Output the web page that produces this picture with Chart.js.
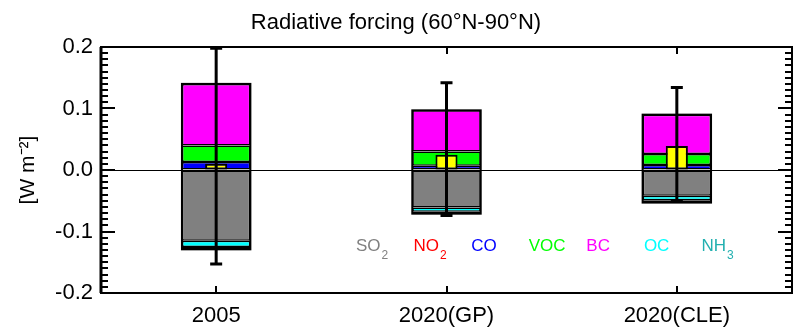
<!DOCTYPE html>
<html>
<head>
<meta charset="utf-8">
<script src="https://cdn.jsdelivr.net/npm/chart.js@4.4.1/dist/chart.umd.min.js"></script>
<style>
  html, body { margin: 0; padding: 0; background: #fff; }
  canvas { display: block; }
</style>
</head>
<body>
<canvas id="rfChart" width="795" height="328"></canvas>
<script>
// ---- data (W m-2) ----
const categories = ["2005", "2020(GP)", "2020(CLE)"];
const so2 = [-0.115, -0.061, -0.042];
const no2 = [0, 0, 0];
const co  = [0.013, 0.007, 0.008];
const voc = [0.027, 0.023, 0.018];
const bc  = [0.100, 0.067, 0.064];
const oc  = [-0.010, -0.007, -0.007];
const nh3 = [-0.004, -0.003, -0.004];
const net = [0.010, 0.025, 0.039];
const errHigh = [0.198, 0.142, 0.134];
const errLow  = [-0.153, -0.074, -0.051];

const yTicks = [-0.2, -0.1, 0, 0.1, 0.2];
const yTickLabels = ["-0.2", "-0.1", "0.0", "0.1", "0.2"];

// in-plot species labels
const legendNames  = ["SO", "NO", "CO", "VOC", "BC", "OC", "NH"];
const legendSubs   = ["2", "2", "", "", "", "", "3"];
const legendColors = ["#808080", "#ff0000", "#0000ff", "#00ff00", "#ff00ff", "#00ffff", "#22b0b0"];

const FONT = "'Liberation Sans', Arial, Helvetica, sans-serif";

function comp(label, data, color) {
  return {
    label, data,
    backgroundColor: color,
    borderColor: "#000",
    borderWidth: 1.5,
    borderSkipped: false,
    stack: "comp",
    grouped: false,
    order: 1,
    categoryPercentage: 1,
    barPercentage: 0.297,
  };
}

// box outlines, error bars, frame with inward ticks, species labels
const decorPlugin = {
  id: "decor",
  afterDatasetsDraw(chart) {
    const { ctx, scales: { x, y } } = chart;
    const metas = chart.getSortedVisibleDatasetMetas().filter((m) => m.stack === "comp");
    ctx.save();
    ctx.strokeStyle = "#000";

    categories.forEach((_, j) => {
      let top = Infinity, bot = -Infinity, cx = 0, w = 0;
      metas.forEach((m) => {
        const el = m.data[j];
        if (!el) return;
        top = Math.min(top, el.y, el.base);
        bot = Math.max(bot, el.y, el.base);
        cx = el.x; w = el.width;
      });
      ctx.lineWidth = 2;
      ctx.strokeRect(cx - w / 2, top, w, bot - top);

      // error bar
      const px = x.getPixelForValue(j);
      const yHi = y.getPixelForValue(errHigh[j]);
      const yLo = y.getPixelForValue(errLow[j]);
      ctx.lineWidth = 3;
      ctx.beginPath();
      ctx.moveTo(px, yHi); ctx.lineTo(px, yLo);
      ctx.moveTo(px - 6, yHi); ctx.lineTo(px + 6, yHi);
      ctx.moveTo(px - 6, yLo); ctx.lineTo(px + 6, yLo);
      ctx.stroke();
    });
    ctx.restore();
  },
  afterDraw(chart) {
    const { ctx, chartArea: a, scales: { x, y } } = chart;
    ctx.save();
    ctx.strokeStyle = "#000";

    // minor / major ticks on left and right, pointing inward
    ctx.lineWidth = 2;
    for (let k = -20; k <= 20; k++) {
      const py = Math.round(y.getPixelForValue(k / 100));
      const len = k % 10 === 0 ? 14 : 7;
      ctx.beginPath();
      ctx.moveTo(a.left, py); ctx.lineTo(a.left + len, py);
      ctx.moveTo(a.right, py); ctx.lineTo(a.right - len, py);
      ctx.stroke();
    }
    // category ticks top and bottom
    categories.forEach((_, j) => {
      const px = Math.round(x.getPixelForValue(j));
      ctx.beginPath();
      ctx.moveTo(px, a.bottom); ctx.lineTo(px, a.bottom - 7);
      ctx.moveTo(px, a.top); ctx.lineTo(px, a.top + 7);
      ctx.stroke();
    });
    // frame
    ctx.lineWidth = 2;
    ctx.strokeRect(a.left, a.top, a.right - a.left, a.bottom - a.top);
    ctx.lineWidth = 3;
    ctx.beginPath();
    ctx.moveTo(a.left, a.top); ctx.lineTo(a.left, a.bottom);
    ctx.stroke();

    // species labels inside the plot
    const yb = y.getPixelForValue(-0.132);
    legendNames.forEach((name, i) => {
      const lx = x.getPixelForValue(0.607 + i * 0.25);
      ctx.fillStyle = legendColors[i];
      ctx.font = "17px " + FONT;
      ctx.textAlign = "left";
      ctx.textBaseline = "alphabetic";
      ctx.fillText(name, lx, yb);
      if (legendSubs[i]) {
        const w = ctx.measureText(name).width;
        ctx.font = "12px " + FONT;
        ctx.fillText(legendSubs[i], lx + w + 1, yb + 8);
      }
    });
    ctx.restore();
  },
};

new Chart(document.getElementById("rfChart"), {
  type: "bar",
  data: {
    labels: categories,
    datasets: [
      {
        label: "Net", data: net,
        backgroundColor: "#ffff00", borderColor: "#000", borderWidth: 2, borderSkipped: false,
        stack: "net", grouped: false, order: 0,
        categoryPercentage: 1, barPercentage: 0.096,
      },
      comp("SO2", so2, "#808080"),
      comp("NO2", no2, "#ff0000"),
      comp("CO", co, "#0000ff"),
      comp("VOC", voc, "#00ff00"),
      comp("BC", bc, "#ff00ff"),
      comp("OC", oc, "#00ffff"),
      comp("NH3", nh3, "#22b0b0"),
    ],
  },
  options: {
    responsive: false,
    animation: false,
    devicePixelRatio: 1,
    layout: { padding: { left: 0, right: 3, top: 0, bottom: 0 } },
    plugins: {
      legend: { display: false },
      tooltip: { enabled: false },
      title: {
        display: true,
        text: "Radiative forcing (60°N-90°N)",
        color: "#000",
        font: { family: FONT, size: 22, weight: "normal" },
        padding: { top: 10, bottom: 10.6 },
      },
    },
    scales: {
      x: {
        offset: true,
        grid: { display: false, drawTicks: false },
        border: { display: false },
        ticks: { color: "#000", font: { family: FONT, size: 22 }, padding: 10, maxRotation: 0, autoSkip: false },
        afterFit: (s) => { s.height = 35; },
      },
      y: {
        stacked: true,
        min: -0.2,
        max: 0.2,
        afterBuildTicks: (s) => { s.ticks = yTicks.map((v) => ({ value: v })); },
        ticks: {
          color: "#000",
          font: { family: FONT, size: 22 },
          padding: 8,
          callback: (v) => yTickLabels[yTicks.indexOf(Math.round(v * 10) / 10)],
        },
        grid: {
          drawTicks: false,
          lineWidth: 1,
          color: (c) => (c.tick && Math.abs(c.tick.value) < 1e-9 ? "#000" : "rgba(0,0,0,0)"),
        },
        border: { display: false },
        title: {
          display: true,
          text: "[W m⁻²]",
          color: "#000",
          font: { family: FONT, size: 21 },
          padding: { top: 16, bottom: 0 },
        },
        afterFit: (s) => { s.width = 101; },
      },
    },
  },
  plugins: [decorPlugin],
});
</script>
</body>
</html>
